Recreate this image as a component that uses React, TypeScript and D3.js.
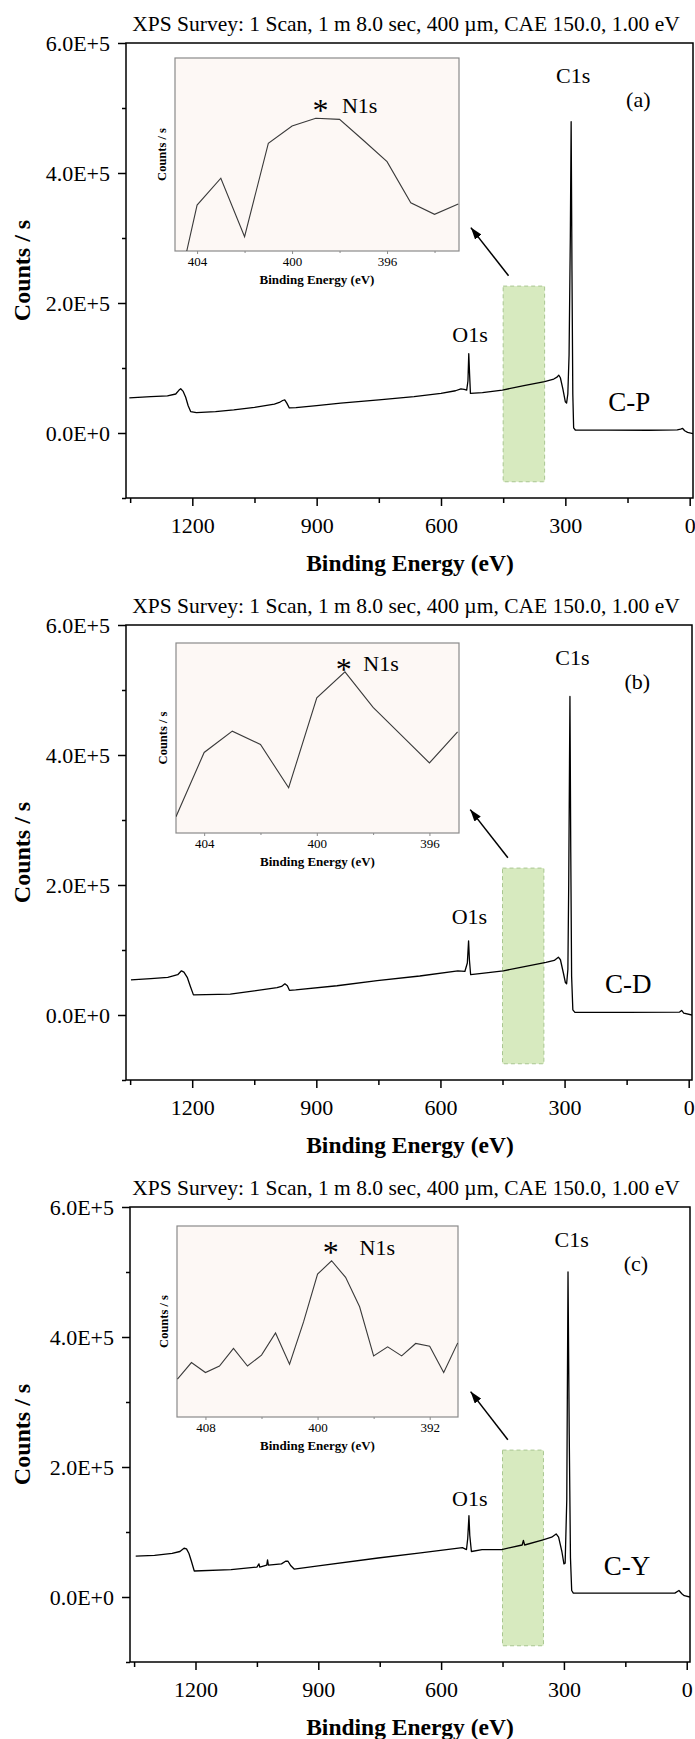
import { useEffect, useRef } from 'react';
import * as d3 from 'd3';

const WIDTH = 695;
const HEIGHT = 1739;
const FONT = '"Liberation Serif", "Times New Roman", serif';

const TITLE = 'XPS Survey: 1 Scan, 1 m 8.0 sec, 400 µm, CAE 150.0, 1.00 eV';
const panelTags = ['(a)', '(b)', '(c)'];
const sampleNames = ['C-P', 'C-D', 'C-Y'];

// main axes
const xDomain = [1360, -8];
const yDomain = [-100000, 600000];
const xTicks = [1200, 900, 600, 300, 0];
const xMinorTicks = [1350, 1050, 750, 450, 150];
const yTicks = [0, 200000, 400000, 600000];
const yMinorTicks = [-100000, 100000, 300000, 500000];

// survey spectra [binding energy eV, counts/s]
const surveyCP = [
  [1352, 54000], [1300, 56000], [1260, 57000], [1240, 60000], [1232, 66000], [1228, 68000],
  [1222, 64000], [1216, 55000], [1210, 42000], [1204, 33000], [1190, 31500], [1144, 33000],
  [1100, 35500], [1050, 39500], [1002, 44500], [990, 47000], [982, 50000], [977, 51000],
  [972, 46000], [966, 38500], [950, 39000], [900, 42000], [842, 46000], [750, 51000],
  [665, 56000], [600, 61000], [565, 65000], [552, 68000], [544, 67000], [538, 66000],
  [535, 80000], [533, 122000], [531, 90000], [529, 61000], [500, 62000], [452, 66000],
  [400, 73000], [350, 79000], [328, 83000], [320, 86000], [316, 89000], [312, 85000],
  [306, 68000], [300, 48000], [297, 46000], [294, 60000], [291, 120000], [288, 300000],
  [286, 479000], [284, 250000], [282, 60000], [280, 8000], [276, 4600], [200, 4300],
  [100, 4200], [30, 4800], [22, 6000], [17, 7000], [12, 3500], [5, 1000], [-8, -1000],
];
const surveyCD = [
  [1348, 54000], [1300, 56000], [1259, 58000], [1235, 62000], [1226, 68000], [1220, 66000],
  [1212, 58000], [1205, 45000], [1197, 31000], [1108, 32000], [1050, 37000], [995, 42000],
  [984, 44000], [976, 48000], [970, 45000], [965, 38000], [950, 38500], [850, 45000],
  [753, 53000], [650, 60000], [558, 68000], [541, 67000], [535, 80000], [532, 114000],
  [530, 85000], [527, 62000], [500, 64000], [448, 68000], [400, 74000], [345, 81000],
  [325, 84000], [315, 89000], [310, 85000], [303, 65000], [298, 50000], [295, 48000],
  [292, 70000], [290, 200000], [287, 490000], [285, 250000], [283, 60000], [280, 8000],
  [275, 4000], [150, 4000], [22, 4500], [17, 7000], [12, 3000], [-8, 0],
];
const surveyCY = [
  [1346, 63000], [1300, 64000], [1257, 67000], [1238, 70000], [1228, 75000], [1222, 74000],
  [1216, 67000], [1210, 55000], [1203, 40000], [1113, 42000], [1050, 46000], [1045, 51000],
  [1043, 46000], [1026, 49000], [1024, 57000], [1022, 49000], [990, 51000], [980, 55000],
  [974, 55000], [967, 48000], [959, 43000], [900, 48000], [754, 60000], [650, 68000],
  [548, 76000], [538, 73000], [535, 90000], [532, 125000], [530, 95000], [526, 70000],
  [500, 73000], [452, 73000], [402, 80000], [399, 87000], [396, 80000], [351, 88000],
  [330, 92000], [319, 97000], [313, 92000], [305, 70000], [300, 51000], [297, 52000],
  [293, 150000], [290, 500000], [287, 250000], [284, 60000], [281, 10000], [277, 6000],
  [150, 6000], [29, 6000], [19, 10000], [12, 5000], [6, 2000], [-8, 0],
];

// N1s insets [binding energy eV, relative counts]
const n1sCP = [
  [405, -31], [404, 23.8], [403, 37.7], [402, 7.4], [401, 55.8], [400, 64.8], [399, 68.8],
  [398, 68.2], [397, 57.4], [396, 46.3], [395, 25.0], [394, 19.0], [393, 24.4],
];
const n1sCD = [
  [405, 8.6], [404, 42.4], [403, 53.6], [402, 46.6], [401, 23.8], [400, 71.1], [399, 84.8],
  [398, 66.1], [397, 51.5], [396, 36.9], [395, 53.2],
];
const n1sCY = [
  [410, 19.8], [409, 28.5], [408, 23.3], [407, 26.7], [406, 35.9], [405, 26.7], [404, 32.4],
  [403, 44.0], [402, 27.6], [401, 49.8], [400, 74.8], [399, 81.8], [398, 73.1], [397, 57.7],
  [396, 32.0], [395, 36.7], [394, 32.0], [393, 38.5], [392, 37.1], [391, 23.3], [390, 38.8],
];
const insetDomains = [[404.93, 392.97], [405, 394.95], [410.03, 389.98]];
const insetTicks = [[404, 400, 396], [404, 400, 396], [408, 400, 392]];
const insetMinorTicks = [[402, 398, 394], [402, 398], [404, 396]];
const insetStar = [[398.8, 75.6], [399.04, 89.2], [399.06, 89.1]];
const insetN1s = [[397.9, 75.6], [398.35, 89.2], [397.0, 89.1]];

// annotations in data units
const highlightEnergy = [450, 350];
const highlightCounts = [-75000, 226000];
const arrowFrom = [437, 242000];
const arrowTo = [528, 316000];
const c1sLabel = [281, 550000];
const tagLabel = [124, 514000];
const o1sLabel = [530, 152000];
const nameLabel = [146, 48000];

// layout
const panelTop = [43, 625, 1207];
const plotHeight = 455;
const plotLeft = [126, 126, 130];
const plotRight = [693, 692, 690];
const insetBox = [[175, 15, 284, 193], [176, 18, 283, 190], [177, 19, 281, 191]];

const surveys = [surveyCP, surveyCD, surveyCY];
const insets = [n1sCP, n1sCD, n1sCY];

const App = () => {
  const ref = useRef(null);

  useEffect(() => {
    const svg = d3.select(ref.current);
    svg.selectAll('*').remove();

    const defs = svg.append('defs');
    defs
      .append('marker')
      .attr('id', 'arrowhead')
      .attr('markerUnits', 'userSpaceOnUse')
      .attr('markerWidth', 12)
      .attr('markerHeight', 8)
      .attr('refX', 12)
      .attr('refY', 4)
      .attr('orient', 'auto')
      .append('path')
      .attr('d', 'M0,0 L12,4 L0,8 Z')
      .attr('fill', '#000');

    surveys.forEach((survey, i) => {
      const top = panelTop[i];
      const bottom = top + plotHeight;
      const left = plotLeft[i];
      const right = plotRight[i];

      const x = d3.scaleLinear().domain(xDomain).range([left, right]);
      const y = d3.scaleLinear().domain(yDomain).range([bottom, top]);

      const g = svg.append('g').style('font-family', FONT);

      defs
        .append('clipPath')
        .attr('id', `plot-${i}`)
        .append('rect')
        .attr('x', left)
        .attr('y', top)
        .attr('width', right - left)
        .attr('height', plotHeight);

      // title
      g.append('text')
        .attr('x', 406)
        .attr('y', top - 12)
        .attr('text-anchor', 'middle')
        .style('font-size', '21.5px')
        .text(TITLE);

      // highlighted window
      g.append('rect')
        .attr('x', x(highlightEnergy[0]))
        .attr('y', y(highlightCounts[1]))
        .attr('width', x(highlightEnergy[1]) - x(highlightEnergy[0]))
        .attr('height', y(highlightCounts[0]) - y(highlightCounts[1]))
        .attr('fill', '#d7eabf')
        .attr('stroke', '#a9c690')
        .attr('stroke-width', 1)
        .attr('stroke-dasharray', '4,3');

      // spectrum
      const line = d3
        .line()
        .x((d) => x(d[0]))
        .y((d) => y(d[1]));
      g.append('path')
        .datum(survey)
        .attr('d', line)
        .attr('clip-path', `url(#plot-${i})`)
        .attr('fill', 'none')
        .attr('stroke', '#000')
        .attr('stroke-width', 1.3)
        .attr('stroke-linejoin', 'round');

      // axes
      const yAxis = g
        .append('g')
        .attr('transform', `translate(${left},0)`)
        .call(
          d3
            .axisLeft(y)
            .tickValues(yTicks)
            .tickSize(8)
            .tickSizeOuter(0)
            .tickPadding(8)
            .tickFormat((d) => d3.format('.1e')(d).toUpperCase())
        );
      yAxis.select('.domain').remove();
      yAxis.selectAll('text').style('font-size', '22px').style('font-family', FONT);
      yAxis.selectAll('line').attr('stroke-width', 1.5);

      const yMinor = g
        .append('g')
        .attr('transform', `translate(${left},0)`)
        .call(d3.axisLeft(y).tickValues(yMinorTicks).tickSize(4).tickFormat(() => ''));
      yMinor.select('.domain').remove();
      yMinor.selectAll('line').attr('stroke-width', 1.5);

      const xAxis = g
        .append('g')
        .attr('transform', `translate(0,${bottom})`)
        .call(
          d3
            .axisBottom(x)
            .tickValues(xTicks)
            .tickSize(8)
            .tickPadding(11)
            .tickFormat(d3.format('d'))
        );
      xAxis.select('.domain').remove();
      xAxis.selectAll('text').style('font-size', '22px').style('font-family', FONT);
      xAxis.selectAll('line').attr('stroke-width', 1.5);

      const xMinor = g
        .append('g')
        .attr('transform', `translate(0,${bottom})`)
        .call(d3.axisBottom(x).tickValues(xMinorTicks).tickSize(5).tickFormat(() => ''));
      xMinor.select('.domain').remove();
      xMinor.selectAll('line').attr('stroke-width', 1.5);

      // frame
      g.append('rect')
        .attr('x', left)
        .attr('y', top)
        .attr('width', right - left)
        .attr('height', plotHeight)
        .attr('fill', 'none')
        .attr('stroke', '#000')
        .attr('stroke-width', 1.5);

      // axis titles
      g.append('text')
        .attr('transform', `translate(30,${(top + bottom) / 2}) rotate(-90)`)
        .attr('text-anchor', 'middle')
        .style('font-size', '24px')
        .style('font-weight', 'bold')
        .text('Counts / s');
      g.append('text')
        .attr('x', 410)
        .attr('y', bottom + 73)
        .attr('text-anchor', 'middle')
        .style('font-size', '23.5px')
        .style('font-weight', 'bold')
        .text('Binding Energy (eV)');

      // peak labels
      const label = (pos, text, size) =>
        g
          .append('text')
          .attr('x', x(pos[0]))
          .attr('y', y(pos[1]))
          .attr('dy', '0.35em')
          .attr('text-anchor', 'middle')
          .style('font-size', size)
          .text(text);
      label(c1sLabel, 'C1s', '22px');
      label(tagLabel, panelTags[i], '22px');
      label(o1sLabel, 'O1s', '22px');
      label(nameLabel, sampleNames[i], '27px');

      // arrow
      g.append('line')
        .attr('x1', x(arrowFrom[0]))
        .attr('y1', y(arrowFrom[1]))
        .attr('x2', x(arrowTo[0]))
        .attr('y2', y(arrowTo[1]))
        .attr('stroke', '#000')
        .attr('stroke-width', 1.5)
        .attr('marker-end', 'url(#arrowhead)');

      // inset
      const [bx, by, bw, bh] = insetBox[i];
      const il = bx;
      const it = top + by;
      const ix = d3.scaleLinear().domain(insetDomains[i]).range([il, il + bw]);
      const iy = d3.scaleLinear().domain([0, 100]).range([it + bh, it]);

      defs
        .append('clipPath')
        .attr('id', `inset-${i}`)
        .append('rect')
        .attr('x', il)
        .attr('y', it)
        .attr('width', bw)
        .attr('height', bh);

      g.append('rect')
        .attr('x', il)
        .attr('y', it)
        .attr('width', bw)
        .attr('height', bh)
        .attr('fill', '#fdf8f5')
        .attr('stroke', '#8a8a8a')
        .attr('stroke-width', 1.2);

      g.append('path')
        .datum(insets[i])
        .attr('d', d3.line().x((d) => ix(d[0])).y((d) => iy(d[1])))
        .attr('clip-path', `url(#inset-${i})`)
        .attr('fill', 'none')
        .attr('stroke', '#3a3a3a')
        .attr('stroke-width', 1.1);

      const ixAxis = g
        .append('g')
        .attr('transform', `translate(0,${it + bh})`)
        .call(
          d3
            .axisBottom(ix)
            .tickValues(insetTicks[i])
            .tickSize(3)
            .tickPadding(3)
            .tickFormat(d3.format('d'))
        );
      ixAxis.select('.domain').remove();
      ixAxis.selectAll('text').style('font-size', '13px').style('font-family', FONT);
      ixAxis.selectAll('line').attr('stroke', '#8a8a8a');

      const ixMinor = g
        .append('g')
        .attr('transform', `translate(0,${it + bh})`)
        .call(d3.axisBottom(ix).tickValues(insetMinorTicks[i]).tickSize(2).tickFormat(() => ''));
      ixMinor.select('.domain').remove();
      ixMinor.selectAll('line').attr('stroke', '#8a8a8a');

      g.append('text')
        .attr('x', il + bw / 2)
        .attr('y', it + bh + 33)
        .attr('text-anchor', 'middle')
        .style('font-size', '13px')
        .style('font-weight', 'bold')
        .text('Binding Energy (eV)');
      g.append('text')
        .attr('transform', `translate(${il - 9},${it + bh / 2}) rotate(-90)`)
        .attr('text-anchor', 'middle')
        .style('font-size', '12.5px')
        .style('font-weight', 'bold')
        .text('Counts / s');

      g.append('text')
        .attr('x', ix(insetStar[i][0]))
        .attr('y', iy(insetStar[i][1]))
        .attr('dy', '0.5em')
        .attr('text-anchor', 'middle')
        .style('font-size', '32px')
        .text('*');
      g.append('text')
        .attr('x', ix(insetN1s[i][0]))
        .attr('y', iy(insetN1s[i][1]))
        .attr('dy', '0.35em')
        .style('font-size', '22px')
        .text('N1s');
    });
  }, []);

  return (
    <svg
      ref={ref}
      width={WIDTH}
      height={HEIGHT}
      style={{ position: 'absolute', left: 0, top: 0, background: '#fff' }}
    ></svg>
  );
};

export default App;
